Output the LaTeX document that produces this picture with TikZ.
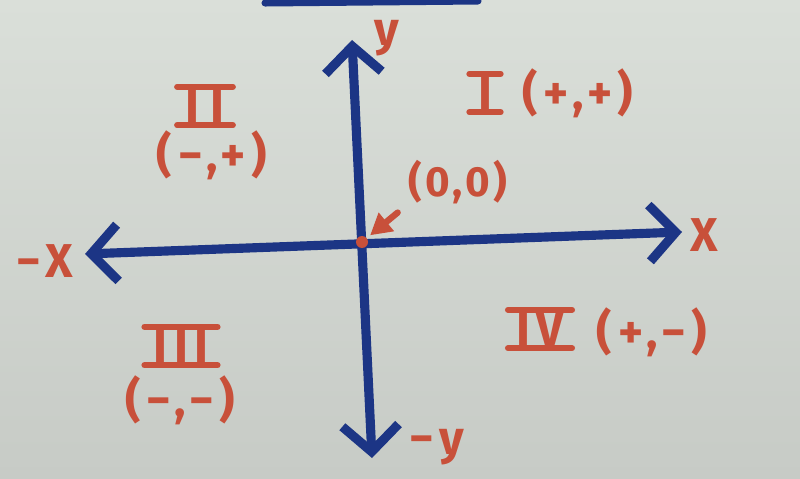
\documentclass[tikz,border=0pt]{standalone}
\usepackage{fontspec}
\setmainfont{Fira Sans}
\usetikzlibrary{arrows.meta}
\definecolor{bgtop}{HTML}{DADFD9}
\definecolor{bgbot}{HTML}{C7CBC6}
\definecolor{axisblue}{HTML}{1C3585}
\definecolor{marker}{HTML}{C8503A}
\begin{document}
\begin{tikzpicture}[x=0.01cm,y=-0.01cm,
  lab/.style={text=marker, font=\fontsize{13.5}{16}\selectfont\bfseries\addfontfeature{LetterSpace=12}, inner sep=0pt},
  bar/.style={draw=marker, line width=1.7pt, line cap=round},
  axisline/.style={draw=axisblue, line width=2.6pt, line cap=round,
    {Straight Barb[length=7.5pt,width=16pt]}-{Straight Barb[length=7.5pt,width=16pt]}},
  pointer/.style={draw=marker, line width=1.8pt, line cap=round, -{Triangle[length=6pt,width=6.5pt]}, shorten >=3pt}
]
% background
\shade[top color=bgtop, bottom color=bgbot] (0,0) rectangle (800,479);
\useasboundingbox (0,0) rectangle (800,479);

% top edge bar
\draw[draw=axisblue, line width=2pt, line cap=round] (265,3) -- (478,1);

% axes end points
\coordinate (xl) at (85,254);
\coordinate (xr) at (682,232);
\coordinate (yt) at (352,40);
\coordinate (yb) at (372,458);
\coordinate (o) at (362,242);

\draw[axisline] (xl) -- (xr);
\draw[axisline] (yb) -- (yt);

% origin dot
\fill[marker] (o) circle (6);

% labels
\node[lab] (ylab) at (387,38) {y};
\node[lab] (xlab) at (704,235) {X};
\node[lab] (nxlab) at (45,261) {−X};
\node[lab] (nylab) at (437,447) {−y};

\node[lab] (q1) at (485,93) {I};
\node[lab] (q1s) at (578,93) {(+,+)};
\node[lab] (q2) at (205,106) {I\kern3pt I};
\node[lab] (q2s) at (212,155) {(−,+)};
\node[lab] (q3) at (181,346) {I\kern2pt I\kern2pt I};
\node[lab] (q3s) at (180,400) {(−,−)};
\node[lab] (q4) at (540,329) {IV};
\node[lab] (q4s) at (652,332) {(+,−)};

\node[lab, font=\fontsize{12}{14}\selectfont\bfseries\addfontfeature{LetterSpace=8}] (oo) at (458,182) {(0,0)};
\draw[pointer] ([shift={(-10,8)}]oo.south west) -- (o);

% numeral bars
\foreach \n in {q1,q2,q3,q4}{
  \draw[bar] ([shift={(-8,-2)}]\n.north west) -- ([shift={(8,-2)}]\n.north east);
  \draw[bar] ([shift={(-8,2)}]\n.south west) -- ([shift={(8,2)}]\n.south east);
}
\end{tikzpicture}
\end{document}
